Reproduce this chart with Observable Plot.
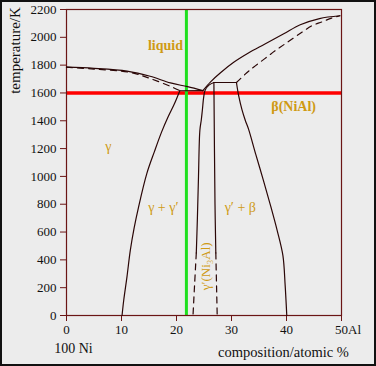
<!DOCTYPE html>
<html><head><meta charset="utf-8">
<script src="https://cdn.jsdelivr.net/npm/d3@7"></script>
<script src="https://cdn.jsdelivr.net/npm/@observablehq/plot@0.6"></script>
<style>
html,body{margin:0;padding:0;background:#ececec;}
#chart{width:376px;height:366px;box-sizing:border-box;border:2px solid #111;overflow:hidden;background:#ececec;}
#chart svg{display:block;}
#chart svg, #chart text{font-family:"Liberation Serif","Times New Roman","DejaVu Serif",serif !important;}
</style></head><body><div id="chart"></div>
<script>
// ---- data (composition at.% Al, temperature K) ----
const yTicks = [0,200,400,600,800,1000,1200,1400,1600,1800,2000,2200];
const xTicks = [0,10,20,30,40,50];
const xTickLabels = ["0","10","20","30","40","50Al"];

const niLiquidus = [[0,1785],[5,1777],[11,1757],[15.2,1720],[18.9,1672],[22,1645],[24.8,1617]];
const niSolidus = [[0,1785],[5,1772],[11.6,1748],[15.2,1704],[19.4,1639],[20.6,1616]];
const eutectic = [[20.6,1616],[24.8,1617]];
const betaLiquidus = [[24.8,1617],[26.2,1680],[28,1745],[30.4,1820],[33,1885],[36,1950],[39.5,2025],[42.5,2090],[46,2135],[49.7,2155]];
const betaSolidus = [[30.9,1675],[32.5,1735],[34,1785],[36,1845],[38,1905],[40,1960],[42.8,2036],[44.7,2085],[46.4,2110],[48.2,2138],[49.7,2155]];
const gammaSolvus = [[20.6,1616],[19.6,1520],[18.5,1430],[17.3,1320],[16,1180],[14.6,1020],[13.1,780],[12.3,630],[11.6,468],[11,280],[10.4,108],[10.1,0]];
const gpLeftSolid = [[26.8,1675],[25.9,1656],[25.2,1620],[24.95,1572],[24.7,1476],[24.5,1404],[24.25,1332],[24.0,1000],[23.8,700],[23.6,450]];
const gpLeftDashed = [[23.6,450],[23.3,230],[23.0,0]];
const gpRightSolid = [[26.8,1675],[27.0,800],[27.15,450]];
const gpRightDashed = [[27.15,450],[27.4,0]];
const gpTop = [[26.8,1675],[30.9,1675]];
const betaBoundary = [[30.9,1675],[31.3,1580],[31.9,1480],[32.5,1404],[33.1,1340],[34.4,1160],[35.8,972],[37.1,790],[38.3,612],[39.35,430],[39.75,220],[40.05,0]];

const redLineT = [1600];
const greenLineX = [21.8];

const boldLabels = ["liquid", "β(NiAl)"];
const boldLabelX = [18.0, 41.3];
const boldLabelT = [1944, 1500];
const phaseLabels = ["γ", "γ + γ′", "γ′ + β"];
const phaseLabelX = [7.6, 17.6, 31.6];
const phaseLabelT = [1212, 779, 779];
const gpLabel = ["γ′(Ni₃Al)"];
const gpLabelX = [25.4];
const gpLabelT = [354];

const yTitle = "temperature/K";
const xTitle = "composition/atomic %";
const niTitle = "100 Ni";

// ---- styling ----
const serif = "Liberation Serif, Times New Roman, DejaVu Serif, serif";
const ink = "#2a0606";
const frameC = "#6b1515";
const gold = "#cf9a14";
const lw = 1.2;
const X = d => d[0], Y = d => d[1];
const curve = "catmull-rom";

const solid = (data) => Plot.line(data, {x: X, y: Y, stroke: ink, strokeWidth: lw, curve});
const dashed = (data) => Plot.line(data, {x: X, y: Y, stroke: ink, strokeWidth: lw, curve, strokeDasharray: "6,5"});
const centered = {textAnchor: "middle", lineAnchor: "middle", fontFamily: serif};

const chart = Plot.plot({
  width: 372, height: 362,
  marginLeft: 64, marginRight: 33, marginTop: 7, marginBottom: 49,
  style: {background: "#ececec", color: "#111", fontFamily: serif},
  x: {domain: [0, 50]},
  y: {domain: [0, 2200]},
  marks: [
    Plot.ruleY(redLineT, {stroke: "#ff0000", strokeWidth: 3.5}),
    Plot.ruleX(greenLineX, {stroke: "#1fe01f", strokeWidth: 3}),
    Plot.frame({stroke: frameC, strokeWidth: 1.2}),
    Plot.axisY({ticks: yTicks, tickSize: 6, tickPadding: 4, fontSize: 13, fontFamily: serif, stroke: frameC, fill: "#111", label: null,
      tickFormat: d => String(d)}),
    Plot.axisX({ticks: xTicks, tickSize: 6, tickPadding: 3, fontSize: 13, fontFamily: serif, stroke: frameC, fill: "#111", label: null,
      tickFormat: d => d === 50 ? "" : xTickLabels[xTicks.indexOf(d)]}),
    Plot.text([xTicks[xTicks.length - 1]], {x: d => d, text: () => xTickLabels[xTickLabels.length - 1], fontFamily: serif,
      frameAnchor: "bottom", lineAnchor: "top", textAnchor: "start", dx: -6.5, dy: 9, fontSize: 13, fill: "#111"}),
    solid(niLiquidus),
    dashed(niSolidus),
    solid(eutectic),
    solid(betaLiquidus),
    dashed(betaSolidus),
    solid(gammaSolvus),
    solid(gpLeftSolid),
    dashed(gpLeftDashed),
    solid(gpRightSolid),
    dashed(gpRightDashed),
    solid(gpTop),
    solid(betaBoundary),
    Plot.text(boldLabels, {x: (d, i) => boldLabelX[i], y: (d, i) => boldLabelT[i], text: d => d, fill: gold, fontSize: 14, fontWeight: "bold", fontFamily: serif}),
    Plot.text(phaseLabels, {x: (d, i) => phaseLabelX[i], y: (d, i) => phaseLabelT[i], text: d => d, fill: gold, fontSize: 14, fontFamily: serif}),
    Plot.text(gpLabel, {x: (d, i) => gpLabelX[i], y: (d, i) => gpLabelT[i], text: d => d, fill: gold, fontSize: 13, rotate: -90, fontFamily: serif}),
    Plot.text([yTitle], {frameAnchor: "top-left", ...centered, rotate: -90, dx: -51, dy: 41, fontSize: 15, fill: "#111"}),
    Plot.text([xTitle], {frameAnchor: "bottom-right", ...centered, dx: -58, dy: 37, fontSize: 14.5, fill: "#111"}),
    Plot.text([niTitle], {frameAnchor: "bottom-left", ...centered, dx: 7, dy: 33, fontSize: 14, fill: "#111"})
  ]
});
document.getElementById("chart").appendChild(chart);
</script>
</body></html>
